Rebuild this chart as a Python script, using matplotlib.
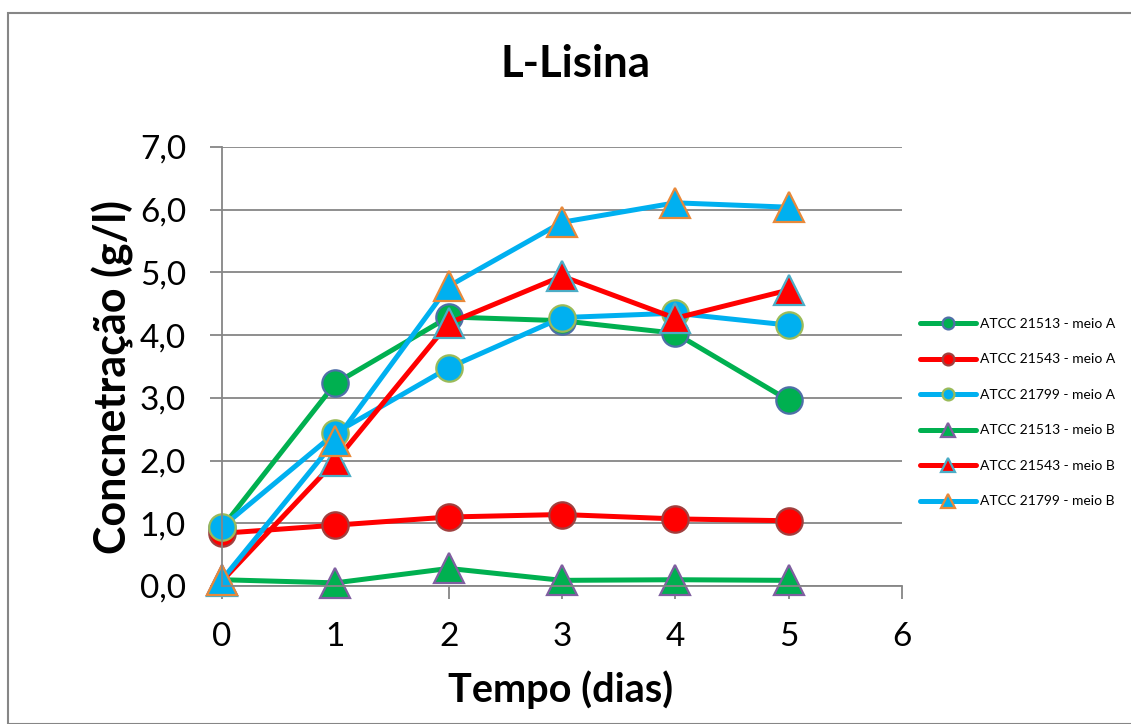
import matplotlib
matplotlib.use("Agg")
import matplotlib.pyplot as plt
from matplotlib.patches import Rectangle

plt.rcParams['font.family'] = ['Lato', 'DejaVu Sans']

days = [0, 1, 2, 3, 4, 5]
labels = ["ATCC 21513 - meio A", "ATCC 21543 - meio A", "ATCC 21799 - meio A",
          "ATCC 21513 - meio B", "ATCC 21543 - meio B", "ATCC 21799 - meio B"]
a21513 = [0.93, 3.23, 4.29, 4.23, 4.03, 2.96]
a21543 = [0.84, 0.97, 1.10, 1.14, 1.07, 1.04]
a21799 = [0.94, 2.44, 3.48, 4.28, 4.35, 4.16]
b21513 = [0.10, 0.05, 0.28, 0.09, 0.10, 0.09]
b21543 = [0.08, 1.99, 4.19, 4.94, 4.27, 4.72]
b21799 = [0.10, 2.32, 4.78, 5.80, 6.11, 6.04]
yticks = [0, 1, 2, 3, 4, 5, 6, 7]
ytick_labels = ["0,0", "1,0", "2,0", "3,0", "4,0", "5,0", "6,0", "7,0"]
xticks = [0, 1, 2, 3, 4, 5, 6]

series = [a21513, a21543, a21799, b21513, b21543, b21799]
line_colors = ["#00B050", "#FF0000", "#00B0F0", "#00B050", "#FF0000", "#00B0F0"]
edge_colors = ["#4F6FA8", "#A0403F", "#9BBB59", "#7F5FA0", "#4BACC6", "#E8893A"]
markers = ["o", "o", "o", "^", "^", "^"]

W, H = 1131, 724
fig = plt.figure(figsize=(W / 100, H / 100), dpi=100)
ax = fig.add_axes([222 / W, 1 - 586 / H, (902 - 222) / W, (586 - 147) / H])

for vals, lc, ec, m, lab in zip(series, line_colors, edge_colors, markers, labels):
    ms = 19 if m == "o" else 21
    ax.plot(days, vals, color=lc, lw=3.6, marker=m, markersize=ms,
            markerfacecolor=lc, markeredgecolor=ec, markeredgewidth=1.6,
            label=lab, clip_on=False, solid_capstyle='round')

ax.set_xlim(0, 6)
ax.set_ylim(0, 7)
ax.set_xticks(xticks)
ax.set_yticks(yticks)
ax.set_yticklabels(ytick_labels)
ax.tick_params(axis='both', labelsize=24, color='#868686', length=9, width=1.3, pad=17)
ax.yaxis.grid(True, color='#868686', lw=1.3)
ax.set_axisbelow(True)
for s in ['top', 'right']:
    ax.spines[s].set_visible(False)
for s in ['left', 'bottom']:
    ax.spines[s].set_color('#868686')
    ax.spines[s].set_linewidth(1.3)

fig.text(575 / W, 1 - 64 / H, "L-Lisina", ha='center', va='center',
         fontsize=31.5, fontweight='bold')
fig.text(561 / W, 1 - 690 / H, "Tempo (dias)", ha='center', va='center',
         fontsize=28.5, fontweight='bold')
fig.text(113 / W, 1 - 377 / H, "Concnetração (g/l)", ha='center', va='center',
         fontsize=31, fontweight='bold', rotation=90)

leg = ax.legend(loc='upper left', bbox_to_anchor=(920 / W, 1 - 318 / H),
                bbox_transform=fig.transFigure, frameon=False, fontsize=10,
                markerscale=0.45, handlelength=4.0, handletextpad=0.3,
                labelspacing=1.69, borderaxespad=0, borderpad=0)
for h in leg.legend_handles:
    h.set_linewidth(3.6)

fig.patches.append(Rectangle((8 / W, 0), 1.2, 1 - 13 / H, transform=fig.transFigure,
                             fill=False, edgecolor='#868686', lw=1.5))

fig.savefig("out.png", dpi=100)
